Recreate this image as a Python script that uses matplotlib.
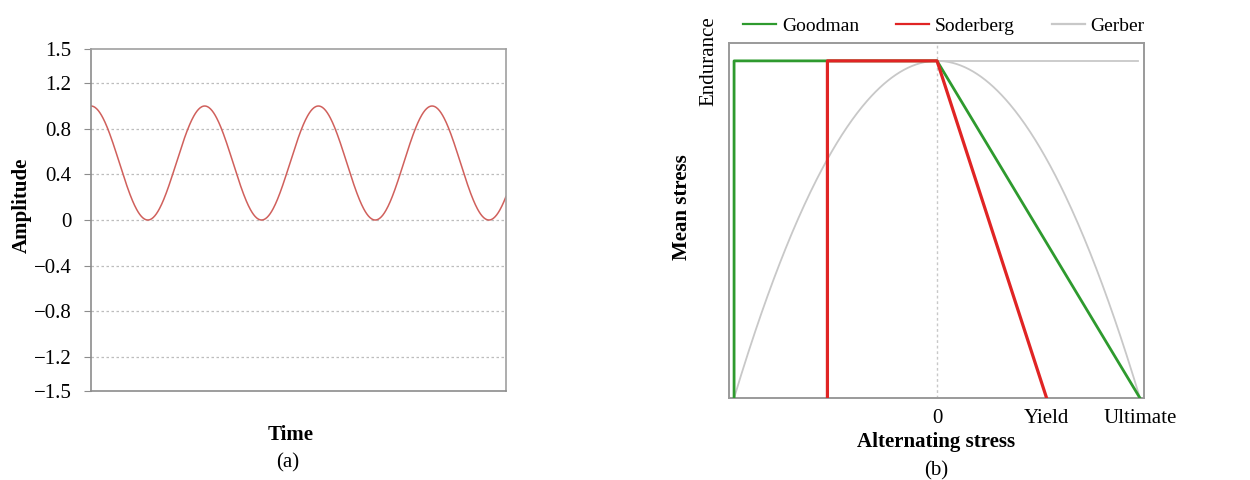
import numpy as np
import matplotlib.pyplot as plt

plt.rcParams['font.family'] = ['Liberation Serif', 'DejaVu Serif']
plt.rcParams['axes.unicode_minus'] = True

# (a) cyclic load signal
amp_ticks = [-1.5, -1.2, -0.8, -0.4, 0, 0.4, 0.8, 1.2, 1.5]
amp_labels = ['\u22121.5', '\u22121.2', '\u22120.8', '\u22120.4', '0', '0.4', '0.8', '1.2', '1.5']
wave_mean = 0.5
wave_amp = 0.5
wave_cycles = 3.65

# (b) mean-stress diagram, stresses normalised by ultimate strength / endurance limit
ultimate = 1.0
yield_stress = 0.54
endurance = 1.0
stress_ticks = [0, yield_stress, ultimate]
stress_labels = ['0', 'Yield', 'Ultimate']
goodman_x = [-ultimate, -ultimate, 0, ultimate]
goodman_y = [0, endurance, endurance, 0]
soderberg_x = [-yield_stress, -yield_stress, 0, yield_stress]
soderberg_y = [0, endurance, endurance, 0]

fig = plt.figure(figsize=(12.5, 4.8), dpi=100)

# ---- panel (a)
ax1 = fig.add_axes([0.0728, 0.1854, 0.332, 0.7125])
t = np.linspace(0, wave_cycles, 800)
ax1.plot(t, wave_mean + wave_amp * np.cos(2 * np.pi * t), color='#d0605c', lw=1.1)
ax1.set_xlim(0, wave_cycles)
ax1.set_ylim(-1.5, 1.5)
ax1.set_yticks(amp_ticks)
ax1.set_yticklabels(amp_labels, fontsize=15)
ax1.set_xticks([])
for y in amp_ticks[1:-1]:
    ax1.axhline(y, color='#bdbdbd', lw=0.9, ls=(0, (2, 2)), zorder=0)
for s in ax1.spines.values():
    s.set_color('#a0a0a0')
    s.set_linewidth(1.2)
ax1.spines['left'].set_color('#8c8c8c')
ax1.spines['bottom'].set_color('#8c8c8c')
ax1.tick_params(axis='y', length=5, color='#8c8c8c', pad=9)
ax1.set_ylabel('Amplitude', fontsize=15, fontweight='bold')
ax1.yaxis.set_label_coords(-0.142, 0.544)
ax1.text(0.48, -0.13, 'Time', transform=ax1.transAxes, ha='center', va='center',
         fontsize=15, fontweight='bold')
ax1.text(0.475, -0.21, '(a)', transform=ax1.transAxes, ha='center', va='center',
         fontsize=15)

# ---- panel (b)
ax2 = fig.add_axes([0.5832, 0.1708, 0.332, 0.7396])
x = np.linspace(-ultimate, ultimate, 400)
ax2.axvline(0, color='#c8c8c8', lw=1.0, ls=(0, (2, 2)), zorder=0)
ax2.plot(x, endurance * (1 - (x / ultimate) ** 2), color='#c8c8c8', lw=1.3, label='Gerber')
ax2.plot([0, 0.99 * ultimate], [endurance, endurance], color='#c8c8c8', lw=1.3)
ax2.plot(goodman_x, goodman_y, color='#2e9a2e', lw=2.0, label='Goodman', zorder=3)
ax2.plot(soderberg_x, soderberg_y, color='#e02424', lw=2.3, label='Soderberg', zorder=4)
ax2.set_xlim(-1.025, 1.02)
ax2.set_ylim(0, 1.053)
ax2.set_xticks(stress_ticks)
ax2.set_xticklabels(stress_labels, fontsize=15)
ax2.set_yticks([endurance])
ax2.set_yticklabels(['Endurance'], fontsize=15, rotation=90, va='center')
ax2.tick_params(length=0, pad=8)
for s in ax2.spines.values():
    s.set_color('#9a9a9a')
    s.set_linewidth(1.4)
ax2.set_ylabel('Mean stress', fontsize=15, fontweight='bold')
ax2.yaxis.set_label_coords(-0.089, 0.538)
ax2.set_xlabel('Alternating stress', fontsize=15, fontweight='bold', labelpad=3)
ax2.text(0.5, -0.205, '(b)', transform=ax2.transAxes, ha='center', va='center',
         fontsize=15)
handles, labels = ax2.get_legend_handles_labels()
order = [1, 2, 0]
leg = ax2.legend([handles[i] for i in order], [labels[i] for i in order],
                 ncol=3, loc='lower center', bbox_to_anchor=(0.518, 1.0),
                 frameon=False, fontsize=14, handlelength=1.7,
                 columnspacing=1.9, handletextpad=0.3, borderaxespad=0)
for line in leg.get_lines():
    line.set_linewidth(1.6)

fig.savefig('out.png', dpi=100)
